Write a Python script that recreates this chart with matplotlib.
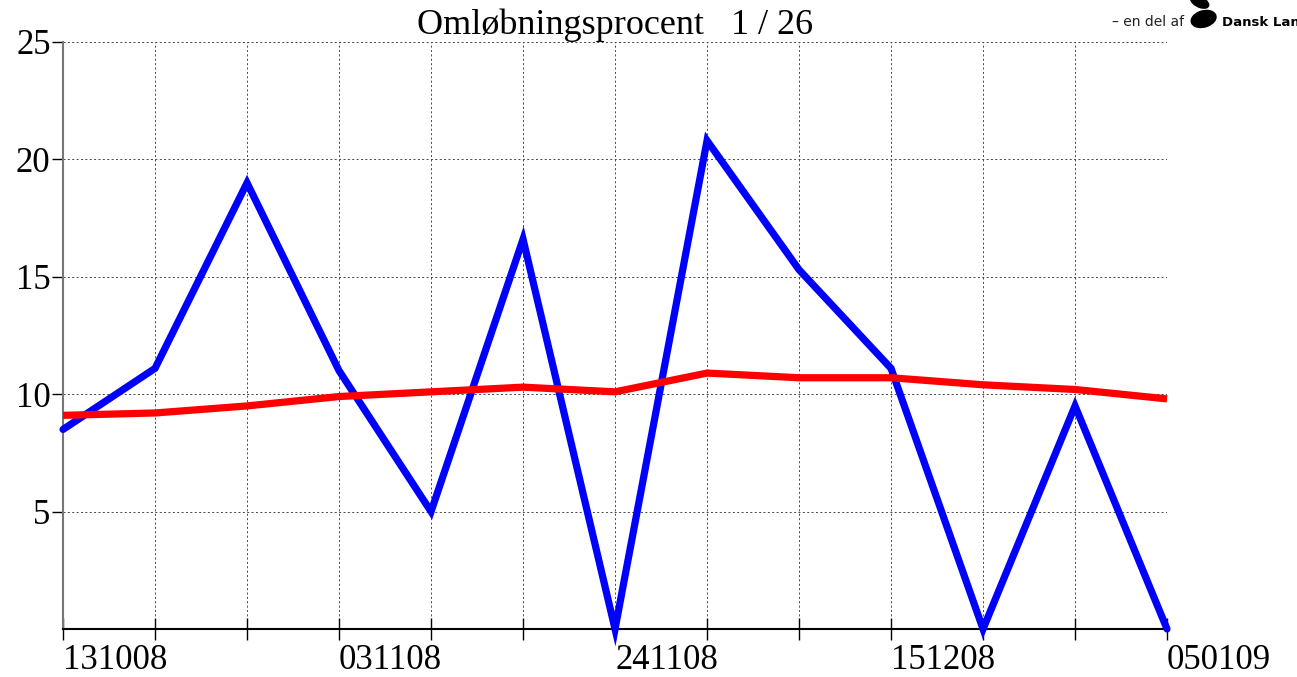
import matplotlib.pyplot as plt
from matplotlib.patches import Ellipse

# data
positions = list(range(13))
blue_values = [8.5, 11.1, 19.0, 11.0, 5.0, 16.6, 0.0, 20.8, 15.3, 11.1, 0.0, 9.5, 0.0]
red_values = [9.1, 9.2, 9.5, 9.9, 10.1, 10.3, 10.1, 10.9, 10.7, 10.7, 10.4, 10.2, 9.8]
tick_labels = ['131008', '', '', '031108', '', '', '241108', '', '', '151208', '', '', '050109']
y_ticks = [5, 10, 15, 20, 25]
y_labels = ['5', '10', '15', '20', '25']

plt.rcParams['font.family'] = ['Liberation Serif', 'DejaVu Serif']

fig = plt.figure(figsize=(12.97, 6.77), dpi=100)
ax = fig.add_axes([0.0486, 0.0709, 0.8512, 0.8671])

ax.plot(positions, blue_values, color='#0000ff', lw=5.2, solid_capstyle='round',
        solid_joinstyle='miter', zorder=3, clip_on=False)
ax.plot(positions, red_values, color='#ff0000', lw=5.2, solid_capstyle='butt', zorder=4, clip_on=False)

ax.set_xlim(0, 12)
ax.set_ylim(0, 25)
ax.set_xticks(positions)
ax.set_xticklabels(tick_labels, ha='left', fontsize=25)
ax.set_yticks(y_ticks)
ax.set_yticklabels(y_labels, fontsize=25)
ax.tick_params(axis='x', direction='inout', length=16, width=1, pad=3)
ax.tick_params(axis='y', direction='out', length=8, width=1, pad=1)
ax.grid(True, color='#444444', linestyle=(0, (2, 2.5)), lw=0.7)
for side in ['top', 'right']:
    ax.spines[side].set_visible(False)
ax.spines['left'].set_color('#777777')
ax.spines['left'].set_linewidth(1.5)
ax.spines['bottom'].set_linewidth(1.5)

ax.set_title('Omløbningsprocent   1 / 26', fontsize=26, pad=-3)

# logo in the top right corner
fig.text(0.857, 0.968, '– en del af', fontsize=10, family='DejaVu Sans', color='#222222',
         ha='left', va='center')
fig.patches.append(Ellipse((0.928, 0.972), 0.018, 0.026, angle=-20, color='black',
                           transform=fig.transFigure, figure=fig))
fig.patches.append(Ellipse((0.925, 0.997), 0.011, 0.02, angle=30, color='black',
                           transform=fig.transFigure, figure=fig))
fig.text(0.942, 0.967, 'Dansk Lan', fontsize=9.5, family='DejaVu Sans', weight='bold',
         color='black', ha='left', va='center')

fig.savefig('out.png', dpi=100)
